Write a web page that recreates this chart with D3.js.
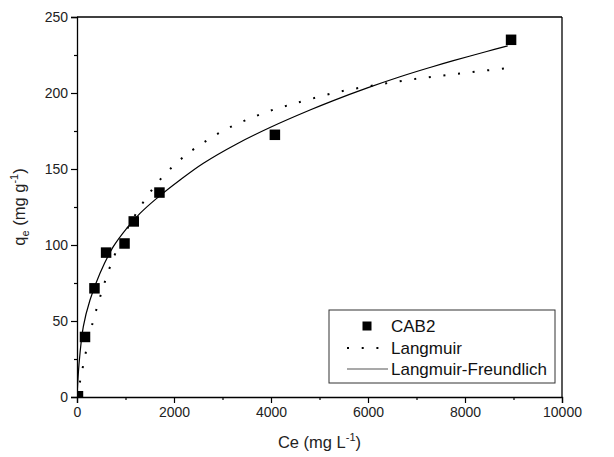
<!DOCTYPE html>
<html>
<head>
<meta charset="utf-8">
<script src="https://cdn.jsdelivr.net/npm/d3@7"></script>
<style>
  html, body { margin: 0; padding: 0; background: #fff; }
  svg { display: block; }
  svg text { font-family: "Liberation Sans", Arial, Helvetica, sans-serif !important; }
</style>
</head>
<body>
<svg id="chart" width="614" height="457"></svg>
<script>
// Measured adsorption data (CAB2)
const ceData = [20, 165, 360, 600, 980, 1170, 1700, 4080, 8950];
const qeData = [0.5, 39.5, 71.5, 95, 101, 115.5, 134.5, 172.5, 235];

// Langmuir fit curve, sampled
const langmuirCe = [0, 62, 180, 316, 489, 667, 784, 1059, 1253, 1459, 1699, 2002, 2297, 2601, 2904, 3199, 3503, 3798, 4093, 4396, 4691, 5290, 5897, 6496, 7086, 7684, 8283, 8880];
const langmuirQe = [0, 10.1, 29.1, 48, 67.1, 84.5, 94, 112, 122.5, 132.5, 142.5, 152.5, 160.5, 167.2, 173.2, 178.2, 182.4, 186.2, 189.5, 192.3, 194.9, 200, 203.8, 207, 209.7, 212, 214.3, 216.3];

// Langmuir-Freundlich fit curve, sampled
const lfCe = [0, 40, 130, 268, 474, 748, 1025, 1299, 1643, 2124, 2606, 3293, 3979, 4804, 5285, 5973, 6660, 7278, 7760, 8447, 8880];
const lfQe = [0, 21, 46.3, 63.8, 81.4, 98.9, 111, 120.8, 130.7, 142.8, 153.8, 166.5, 177.3, 188.8, 195, 203.2, 210.7, 216.8, 221.3, 227.3, 231];

// Axis ticks
const xTicks = [0, 2000, 4000, 6000, 8000, 10000];
const xMinorTicks = [1000, 3000, 5000, 7000, 9000];
const yTicks = [0, 50, 100, 150, 200, 250];
const yMinorTicks = [25, 75, 125, 175, 225];

const legendLabels = ["CAB2", "Langmuir", "Langmuir-Freundlich"];

const svg = d3.select("#chart");
const plot = { left: 77, right: 562, top: 17, bottom: 397 };

const x = d3.scaleLinear().domain([0, 10000]).range([plot.left, plot.right]);
const y = d3.scaleLinear().domain([0, 250]).range([plot.bottom, plot.top]);

// clip region for marks
svg.append("defs").append("clipPath").attr("id", "plotClip")
  .append("rect")
  .attr("x", plot.left).attr("y", plot.top)
  .attr("width", plot.right - plot.left).attr("height", plot.bottom - plot.top);

const marks = svg.append("g").attr("clip-path", "url(#plotClip)");

const lineGen = d3.line().x(d => x(d[0])).y(d => y(d[1])).curve(d3.curveCatmullRom.alpha(0.5));

// Langmuir (dotted)
marks.append("path")
  .datum(d3.zip(langmuirCe, langmuirQe))
  .attr("d", lineGen)
  .attr("fill", "none")
  .attr("stroke", "#000")
  .attr("stroke-width", 2)
  .attr("stroke-dasharray", "2 12.7");

// Langmuir-Freundlich (solid)
marks.append("path")
  .datum(d3.zip(lfCe, lfQe))
  .attr("d", lineGen)
  .attr("fill", "none")
  .attr("stroke", "#000")
  .attr("stroke-width", 1.2);

// data squares
const sq = 10.5;
marks.selectAll("rect.pt")
  .data(d3.zip(ceData, qeData))
  .join("rect")
  .attr("class", "pt")
  .attr("x", d => x(d[0]) - sq / 2)
  .attr("y", d => y(d[1]) - sq / 2)
  .attr("width", sq).attr("height", sq)
  .attr("fill", "#000");

// axes
svg.append("g")
  .attr("transform", `translate(0,${plot.bottom})`)
  .call(d3.axisBottom(x).tickValues(xTicks).tickSize(6).tickPadding(4).tickFormat(d3.format("d")));
svg.append("g")
  .attr("transform", `translate(0,${plot.bottom})`)
  .call(d3.axisBottom(x).tickValues(xMinorTicks).tickSize(3).tickFormat(""))
  .call(g => g.select(".domain").remove());

svg.append("g")
  .attr("transform", `translate(${plot.left},0)`)
  .call(d3.axisLeft(y).tickValues(yTicks).tickSize(6).tickPadding(3).tickFormat(d3.format("d")));
svg.append("g")
  .attr("transform", `translate(${plot.left},0)`)
  .call(d3.axisLeft(y).tickValues(yMinorTicks).tickSize(3).tickFormat(""))
  .call(g => g.select(".domain").remove());

svg.selectAll(".tick line").attr("stroke", "#000").attr("stroke-width", 1.2);
svg.selectAll(".domain").attr("stroke", "#000").attr("stroke-width", 1.3);
svg.selectAll(".tick text")
  .attr("fill", "#222")
  .style("font-size", "14px");

// frame top and right
svg.append("line")
  .attr("x1", plot.left).attr("x2", plot.right)
  .attr("y1", plot.top).attr("y2", plot.top)
  .attr("stroke", "#000").attr("stroke-width", 1.3);
svg.append("line")
  .attr("x1", plot.right).attr("x2", plot.right)
  .attr("y1", plot.top).attr("y2", plot.bottom)
  .attr("stroke", "#000").attr("stroke-width", 1.3);

// axis titles
const xTitle = svg.append("text")
  .attr("x", (plot.left + plot.right) / 2)
  .attr("y", 448)
  .attr("text-anchor", "middle")
  .style("font-size", "16.5px")
  .attr("fill", "#222");
xTitle.append("tspan").text("Ce (mg L");
xTitle.append("tspan").attr("dy", -7).style("font-size", "11px").text("-1");
xTitle.append("tspan").attr("dy", 7).text(")");

const yTitle = svg.append("text")
  .attr("transform", `translate(25,${(plot.top + plot.bottom) / 2}) rotate(-90)`)
  .attr("text-anchor", "middle")
  .style("font-size", "16.5px")
  .attr("fill", "#222");
yTitle.append("tspan").text("q");
yTitle.append("tspan").attr("dy", 4).style("font-size", "11px").text("e");
yTitle.append("tspan").attr("dy", -4).text(" (mg g");
yTitle.append("tspan").attr("dy", -7).style("font-size", "11px").text("-1");
yTitle.append("tspan").attr("dy", 7).text(")");

// legend
const lg = svg.append("g");
lg.append("rect")
  .attr("x", 329).attr("y", 310).attr("width", 226).attr("height", 73)
  .attr("fill", "#fff").attr("stroke", "#333").attr("stroke-width", 1);

const rowY = [326, 348, 369];
lg.append("rect")
  .attr("x", 367 - 4.5).attr("y", rowY[0] - 4.5).attr("width", 9).attr("height", 9)
  .attr("fill", "#000");
lg.append("line")
  .attr("x1", 347).attr("x2", 388).attr("y1", rowY[1]).attr("y2", rowY[1])
  .attr("stroke", "#000").attr("stroke-width", 2).attr("stroke-dasharray", "2 12.7");
lg.append("line")
  .attr("x1", 347).attr("x2", 388).attr("y1", rowY[2]).attr("y2", rowY[2])
  .attr("stroke", "#555").attr("stroke-width", 1.2);

lg.selectAll("text.lbl")
  .data(legendLabels)
  .join("text")
  .attr("class", "lbl")
  .attr("x", 391)
  .attr("y", (d, i) => rowY[i])
  .attr("dy", "0.36em")
  .style("font-size", "17px")
  .attr("fill", "#111")
  .text(d => d);
</script>
</body>
</html>
